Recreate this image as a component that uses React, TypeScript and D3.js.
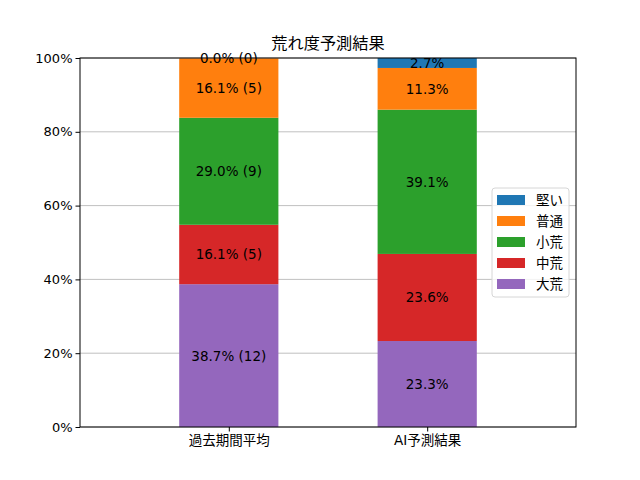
import { useEffect, useRef } from 'react';
import * as d3 from 'd3';

// Chart data
const groups = ['過去期間平均', 'AI予測結果'];
const levels = ['大荒', '中荒', '小荒', '普通', '堅い'];
const levelColors = ['#9467bd', '#d62728', '#2ca02c', '#ff7f0e', '#1f77b4'];
const pastValues = [38.7, 16.1, 29.0, 16.1, 0.0];
const pastCounts = [12, 5, 9, 5, 0];
const aiValues = [23.3, 23.6, 39.1, 11.3, 2.7];
const yTicks = [0, 20, 40, 60, 80, 100];

const FONT = '"DejaVu Sans", "Noto Sans CJK JP", sans-serif';
const FS = 13.5;

export default function App() {
  const svgRef = useRef<SVGSVGElement>(null);

  useEffect(() => {
    if (!svgRef.current) return;
    const root = d3.select(svgRef.current);
    root.selectAll('*').remove();

    const margin = { top: 58, right: 64, bottom: 53, left: 80 };
    const width = 640 - margin.left - margin.right;
    const height = 480 - margin.top - margin.bottom;

    const svg = root
      .append('g')
      .attr('transform', `translate(${margin.left},${margin.top})`);

    const x = d3.scaleLinear().domain([-0.75, 1.75]).range([0, width]);
    const y = d3.scaleLinear().domain([0, 100]).range([height, 0]);
    const barWidth = x(0.5) - x(0);

    // horizontal grid
    svg
      .append('g')
      .selectAll('line')
      .data(yTicks)
      .enter()
      .append('line')
      .attr('x1', 0)
      .attr('x2', width)
      .attr('y1', (d) => y(d))
      .attr('y2', (d) => y(d))
      .attr('stroke', '#b0b0b0')
      .attr('stroke-width', 0.8);

    const series = [
      { values: pastValues, counts: pastCounts as number[] | null },
      { values: aiValues, counts: null },
    ];

    series.forEach((s, gi) => {
      let base = 0;
      s.values.forEach((v, li) => {
        const y0 = y(base);
        const y1 = y(base + v);
        svg
          .append('rect')
          .attr('x', x(gi) - barWidth / 2)
          .attr('y', y1)
          .attr('width', barWidth)
          .attr('height', y0 - y1)
          .attr('fill', levelColors[li]);
        const label = s.counts
          ? `${v.toFixed(1)}% (${s.counts[li]})`
          : `${v.toFixed(1)}%`;
        svg
          .append('text')
          .attr('x', x(gi))
          .attr('y', (y0 + y1) / 2)
          .attr('text-anchor', 'middle')
          .attr('dominant-baseline', 'central')
          .attr('font-family', FONT)
          .attr('font-size', FS)
          .attr('fill', '#000')
          .text(label);
        base += v;
      });
    });

    // axes frame
    svg
      .append('rect')
      .attr('width', width)
      .attr('height', height)
      .attr('fill', 'none')
      .attr('stroke', '#000')
      .attr('stroke-width', 1);

    const yAxis = svg
      .append('g')
      .call(
        d3
          .axisLeft(y)
          .tickValues(yTicks)
          .tickSize(4.5)
          .tickPadding(3)
          .tickFormat((d) => `${d}%`)
      );
    yAxis.select('.domain').remove();
    yAxis.selectAll('text').attr('font-family', FONT).attr('font-size', 13).attr('fill', '#000');

    const xAxis = svg
      .append('g')
      .attr('transform', `translate(0,${height})`)
      .call(
        d3
          .axisBottom(x)
          .tickValues([0, 1])
          .tickSize(4.5)
          .tickPadding(4)
          .tickFormat((d) => groups[d as number])
      );
    xAxis.select('.domain').remove();
    xAxis.selectAll('text').attr('font-family', FONT).attr('font-size', FS).attr('fill', '#000');

    // title
    svg
      .append('text')
      .attr('x', width / 2)
      .attr('y', -9)
      .attr('text-anchor', 'middle')
      .attr('font-family', FONT)
      .attr('font-size', 16.2)
      .attr('fill', '#000')
      .text('荒れ度予測結果');

    // legend (top entry = last level)
    const legend = svg.append('g').attr('transform', `translate(${492 - margin.left},${188 - margin.top})`);
    legend
      .append('rect')
      .attr('width', 77)
      .attr('height', 109)
      .attr('rx', 3)
      .attr('fill', '#fff')
      .attr('fill-opacity', 0.8)
      .attr('stroke', '#d6d6d6');
    const legendOrder = levels.map((_, i) => levels.length - 1 - i);
    legendOrder.forEach((li, row) => {
      const cy = 12 + row * 21;
      legend
        .append('rect')
        .attr('x', 5)
        .attr('y', cy - 5)
        .attr('width', 28)
        .attr('height', 10)
        .attr('fill', levelColors[li]);
      legend
        .append('text')
        .attr('x', 44)
        .attr('y', cy)
        .attr('dominant-baseline', 'central')
        .attr('font-family', FONT)
        .attr('font-size', FS)
        .attr('fill', '#000')
        .text(levels[li]);
    });
  }, []);

  return <svg ref={svgRef} width={640} height={480} style={{ display: 'block', margin: -8 }} />;
}
